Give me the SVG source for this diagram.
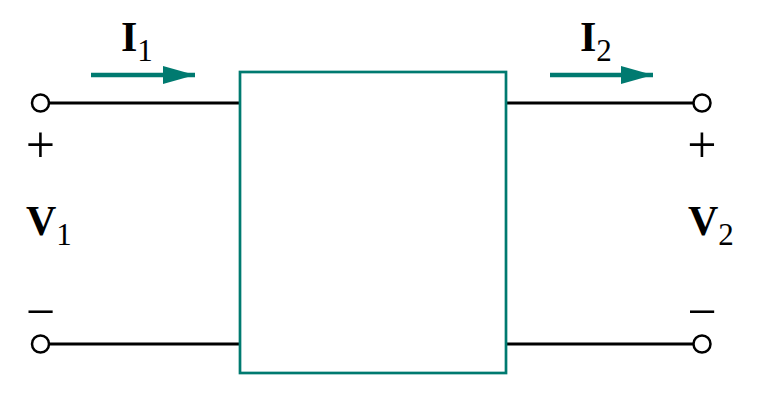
<svg xmlns="http://www.w3.org/2000/svg" width="768" height="410" viewBox="0 0 768 410">
<style>
.wire{stroke:#000;stroke-width:3;fill:none}
.term{stroke:#000;stroke-width:2.5;fill:#fff}
.box{stroke:#007a70;stroke-width:2.7;fill:#fff}
.arr{stroke:#007a70;stroke-width:4.5;fill:none}
.lbl{font-family:"Liberation Serif","Times New Roman",serif;fill:#000}
.b{font-weight:bold;font-size:42px}
.sub{font-size:31px;font-weight:normal}
.sign{font-size:52px;text-anchor:middle}
</style>
<defs>
<marker id="ah" markerUnits="userSpaceOnUse" markerWidth="33" markerHeight="20" refX="32" refY="10" orient="auto">
<path d="M0,1 L32,10 L0,19 Z" fill="#007a70"/>
</marker>
</defs>
<rect width="768" height="410" fill="#fff"/>
<g id="connectors">
<line class="wire" x1="49" y1="103" x2="240" y2="103"/>
<line class="wire" x1="49" y1="344" x2="240" y2="344"/>
<line class="wire" x1="506" y1="103" x2="693" y2="103"/>
<line class="wire" x1="506" y1="344" x2="693" y2="344"/>
<line class="arr" x1="91" y1="75" x2="195" y2="75" marker-end="url(#ah)"/>
<line class="arr" x1="550" y1="75" x2="653" y2="75" marker-end="url(#ah)"/>
</g>
<g id="twoport"><rect class="box" x="240" y="72" width="266" height="301"/></g>
<g id="t1p"><circle class="term" cx="40.5" cy="103" r="8.5"/></g>
<g id="t1n"><circle class="term" cx="40.5" cy="344" r="8.5"/></g>
<g id="t2p"><circle class="term" cx="702" cy="103" r="8.5"/></g>
<g id="t2n"><circle class="term" cx="702" cy="344" r="8.5"/></g>
<g id="labels">
<text class="lbl b" x="121" y="51">I<tspan class="sub" dy="10">1</tspan></text>
<text class="lbl b" x="580" y="51">I<tspan class="sub" dy="10">2</tspan></text>
<text class="lbl b" x="26" y="235">V<tspan class="sub" dy="10">1</tspan></text>
<text class="lbl b" x="688" y="235">V<tspan class="sub" dy="10">2</tspan></text>
<text class="lbl sign" x="40.5" y="162">+</text>
<text class="lbl sign" x="702" y="162">+</text>
<text class="lbl sign" x="40.5" y="329">−</text>
<text class="lbl sign" x="702" y="329">−</text>
</g>
</svg>
